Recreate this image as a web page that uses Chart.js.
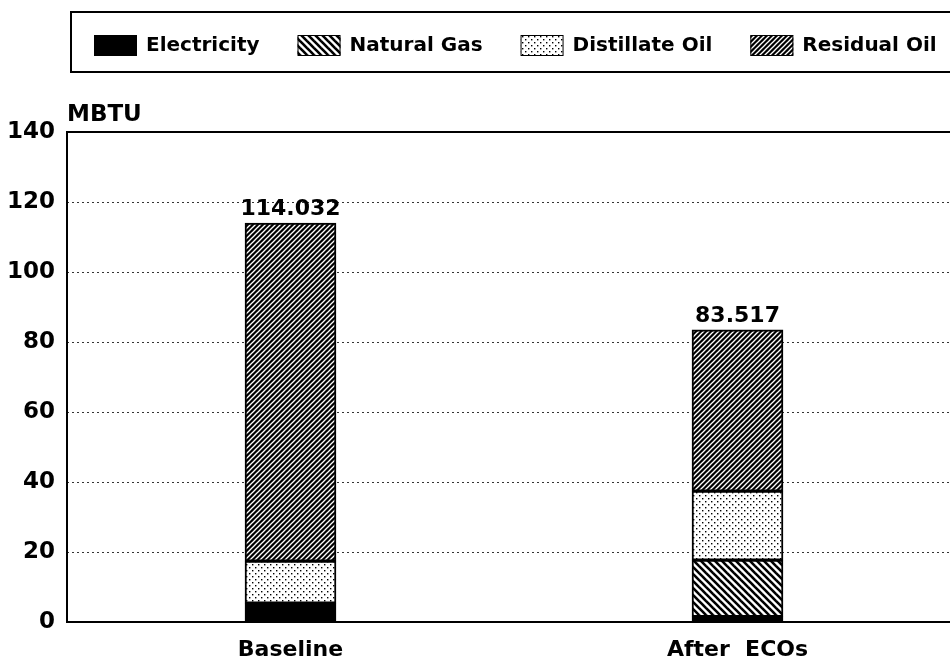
<!DOCTYPE html>
<html>
<head>
<meta charset="utf-8">
<script src="https://cdn.jsdelivr.net/npm/chart.js@4.4.0/dist/chart.umd.min.js"></script>
<style>
  html, body { margin: 0; padding: 0; background: #fff; overflow: hidden; }
  #wrap { width: 961px; height: 662px; }
</style>
</head>
<body>
<div id="wrap"><canvas id="energyChart" width="961" height="662"></canvas></div>
<script>
var categories = ['Baseline', 'After  ECOs'];
var electricity = [5.4, 1.5];
var naturalGas = [0, 16.2];
var distillateOil = [12.0, 19.7];
var residualOil = [96.6, 46.1];
var totals = ['114.032', '83.517'];
var seriesNames = ['Electricity', 'Natural Gas', 'Distillate Oil', 'Residual Oil'];

var FONT = "'DejaVu Sans', 'Liberation Sans', Arial, sans-serif";

// hatch / dot fills like the old printout
function makePattern(kind) {
    var c = document.createElement('canvas');
    var g = c.getContext('2d');
    var s, k;
    if (kind === 'gas') {
        s = 7; c.width = s; c.height = s;
        g.fillStyle = '#fff'; g.fillRect(0, 0, s, s);
        g.strokeStyle = '#000'; g.lineWidth = 2.6;
        for (k = -1; k <= 1; k++) {
            g.beginPath(); g.moveTo(k * s - 1, -1); g.lineTo(k * s + s + 1, s + 1); g.stroke();
        }
    } else if (kind === 'residual') {
        s = 5; c.width = s; c.height = s;
        g.fillStyle = '#000'; g.fillRect(0, 0, s, s);
        g.strokeStyle = '#fff'; g.lineWidth = 1.3;
        for (k = 0; k <= 2; k++) {
            g.beginPath(); g.moveTo(k * s + 1, -1); g.lineTo(k * s - s - 1, s + 1); g.stroke();
        }
    } else {
        s = 6; c.width = s; c.height = s;
        g.fillStyle = '#fff'; g.fillRect(0, 0, s, s);
        g.fillStyle = '#000';
        g.fillRect(0, 0, 1.4, 1.4);
        g.fillRect(3, 3, 1.4, 1.4);
    }
    return g.createPattern(c, 'repeat');
}

var fills = ['#000', makePattern('gas'), makePattern('dots'), makePattern('residual')];

var framePlugin = {
    id: 'frame',
    beforeDatasetsDraw: function (chart) {
        var ctx = chart.ctx, a = chart.chartArea, y = chart.scales.y;
        ctx.save();
        ctx.strokeStyle = '#333';
        ctx.lineWidth = 1;
        ctx.setLineDash([2, 3]);
        y.ticks.forEach(function (t) {
            if (t.value === 0 || t.value === y.max) return;
            var py = Math.round(y.getPixelForValue(t.value)) + 0.5;
            ctx.beginPath(); ctx.moveTo(a.left, py); ctx.lineTo(a.right, py); ctx.stroke();
        });
        ctx.setLineDash([]);
        ctx.strokeStyle = '#000';
        ctx.lineWidth = 2;
        ctx.beginPath();
        ctx.moveTo(a.right, a.top); ctx.lineTo(a.left, a.top);
        ctx.lineTo(a.left, a.bottom); ctx.lineTo(a.right, a.bottom);
        ctx.stroke();
        ctx.restore();
    },
    afterDraw: function (chart) {
        var ctx = chart.ctx, a = chart.chartArea;
        ctx.save();
        ctx.fillStyle = '#000';
        // axis unit
        ctx.font = 'bold 23px ' + FONT;
        ctx.textAlign = 'left';
        ctx.textBaseline = 'alphabetic';
        ctx.fillText('MBTU', a.left, a.top - 11);

        // totals above bars
        var top = chart.getDatasetMeta(chart.data.datasets.length - 1);
        ctx.font = 'bold 22px ' + FONT;
        ctx.textAlign = 'center';
        top.data.forEach(function (el, i) {
            ctx.fillText(totals[i], el.x, el.y - 8);
        });

        // legend box
        ctx.lineWidth = 2;
        ctx.strokeStyle = '#000';
        ctx.strokeRect(71, 12, 960, 60);
        ctx.font = 'bold 20px ' + FONT;
        ctx.textAlign = 'left';
        ctx.textBaseline = 'middle';
        var x = 94;
        chart.data.datasets.forEach(function (ds) {
            ctx.fillStyle = ds.backgroundColor;
            ctx.fillRect(x, 35, 43, 21);
            ctx.lineWidth = 1;
            ctx.strokeRect(x + 0.5, 35.5, 42, 20);
            ctx.fillStyle = '#000';
            ctx.fillText(ds.label, x + 52, 46);
            x += 52 + ctx.measureText(ds.label).width + 38;
        });
        ctx.restore();
    }
};

var seriesData = [electricity, naturalGas, distillateOil, residualOil];

new Chart(document.getElementById('energyChart'), {
    type: 'bar',
    data: {
        labels: categories,
        datasets: seriesData.map(function (vals, i) {
            return {
                label: seriesNames[i],
                data: vals,
                backgroundColor: fills[i],
                borderColor: '#000',
                borderWidth: 2,
                borderSkipped: false,
                barThickness: 91
            };
        })
    },
    options: {
        responsive: false,
        animation: false,
        devicePixelRatio: 1,
        layout: { padding: { top: 132, left: 4, right: 0, bottom: 0 } },
        plugins: {
            legend: { display: false },
            tooltip: { enabled: false }
        },
        scales: {
            x: {
                stacked: true,
                grid: { display: false },
                border: { display: false },
                ticks: { color: '#000', padding: 7, font: { family: FONT, size: 22, weight: 'bold' } },
                afterFit: function (s) { s.height = 40; }
            },
            y: {
                stacked: true,
                min: 0,
                max: 140,
                grid: { display: false, drawTicks: false },
                border: { display: false },
                ticks: { stepSize: 20, color: '#000', padding: 12, font: { family: FONT, size: 23, weight: 'bold' } },
                afterFit: function (s) { s.width = 63; }
            }
        }
    },
    plugins: [framePlugin]
});
</script>
</body>
</html>
